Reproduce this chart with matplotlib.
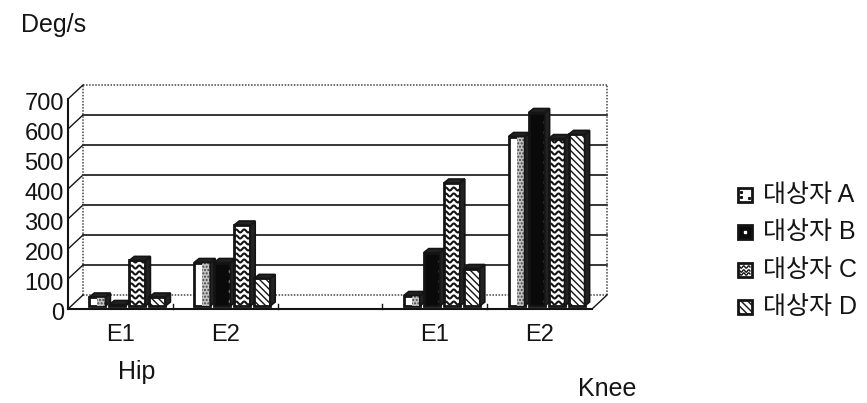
import numpy as np
import matplotlib
matplotlib.use("Agg")
import matplotlib.pyplot as plt
import matplotlib.patches as patches
import matplotlib.transforms as mtrans

plt.rcParams['font.family'] = ['Liberation Sans', 'DejaVu Sans']
plt.rcParams['hatch.linewidth'] = 1.0

# Data
categories = ["E1", "E2", "", "E1", "E2"]
yticks = [0, 100, 200, 300, 400, 500, 600, 700]
series_names = ["대상자 A", "대상자 B", "대상자 C", "대상자 D"]
subject_a = [30, 145, 0, 35, 565]
subject_b = [5, 145, 0, 178, 645]
subject_c = [152, 270, 0, 410, 558]
subject_d = [30, 92, 0, 125, 572]

W, H = 867, 403
ink = "#141414"

fig = plt.figure(figsize=(W/100, H/100), dpi=100, facecolor="white")

# front plane of the fake 3D box, in pixels
left, right, bottom, top = 68, 592, 309, 99
ax = fig.add_axes([left/W, 1-bottom/H, (right-left)/W, (bottom-top)/H])
ax.set_xlim(-0.5, 4.5)
ax.set_ylim(0, 700)
ax.patch.set_alpha(0)
for s in ax.spines.values():
    s.set_visible(False)

px_x = 5/(right-left)
px_y = 700/(bottom-top)
depth_x, depth_y = 15, 14


def fig_line(xs, ys, **kw):
    # line given in pixels from the top left
    fig.add_artist(plt.Line2D(np.asarray(xs)/W, 1-np.asarray(ys)/H, **kw))


# Back wall and floor
dx, dy = depth_x*px_x, depth_y*px_y
for v in yticks[1:-1]:
    ax.plot([-0.5+dx, 4.5+dx], [v+dy, v+dy], color=ink, lw=1.2, clip_on=False, zorder=1)
    ax.plot([-0.5, -0.5+dx], [v, v+dy], color=ink, lw=1.0, clip_on=False, zorder=1)
dot = dict(color="#444444", lw=1.1, ls=(0, (1, 1)), zorder=1)
ax.plot([-0.5+dx, -0.5+dx], [0+dy, 700+dy], clip_on=False, **dot)
ax.plot([4.5+dx, 4.5+dx], [0+dy, 700+dy], clip_on=False, **dot)
ax.plot([-0.5+dx, 4.5+dx], [700+dy, 700+dy], clip_on=False, **dot)
ax.plot([-0.5+dx, 4.5+dx], [0+dy, 0+dy], clip_on=False, **dot)
ax.plot([-0.5, -0.5+dx], [700, 700+dy], color=ink, lw=1.0, clip_on=False, zorder=1)
ax.plot([-0.5, -0.5+dx], [0, dy], color=ink, lw=1.0, clip_on=False, zorder=1)
ax.plot([4.5, 4.5+dx], [0, dy], color=ink, lw=1.0, clip_on=False, zorder=1)
ax.plot([-0.5, -0.5], [0, 700], color=ink, lw=1.5, clip_on=False, zorder=2)
ax.plot([-0.5, 4.5], [0, 0], color=ink, lw=1.5, clip_on=False, zorder=2)

# Bars
bar_off = mtrans.offset_copy(ax.transData, fig=fig, x=7, y=3, units='dots')
step = 20*px_x
bar_w = 16*px_x
side_x, side_y = 5*px_x, 4*px_y
positions = np.arange(len(categories))
series = [subject_a, subject_b, subject_c, subject_d]
styles = [
    dict(facecolor="white", hatch=None),
    dict(facecolor="#0a0a0a", hatch=None),
    dict(facecolor="white", hatch=None),
    dict(facecolor="white", hatch="\\\\\\\\\\"),
]


def draw_texture(kind, rect, x, w, v, z):
    if kind == 0:
        ax.bar(x+w*0.25, v, w*0.5, facecolor="#c4c4c4", hatch=".....", edgecolor="#444444",
               lw=0, transform=bar_off, clip_on=False, zorder=z)
    elif kind == 1:
        yy = np.arange(18, v, 33)
        ax.plot(np.full(len(yy), x+w*0.5), yy, ls="", marker="s", ms=1.4, color="white",
                transform=bar_off, clip_on=False, zorder=z)
    elif kind == 2:
        xs = np.linspace(x-w/2, x+w/2, 40)
        for yy in np.arange(10, v, 20):
            ln, = ax.plot(xs, yy+5*np.sin((xs-x)/w*4*np.pi), color=ink, lw=1.5,
                          transform=bar_off, zorder=z)
            ln.set_clip_path(rect)


for i, values in enumerate(series):
    for j, v in enumerate(values):
        if not categories[j]:
            continue
        x = positions[j] + (i-1.5)*step
        z = 5 + i*2 + j*0.01
        rect = ax.bar(x, v, bar_w, edgecolor=ink, linewidth=2.0, transform=bar_off,
                      clip_on=False, zorder=z, **styles[i])[0]
        draw_texture(i, rect, x, bar_w, v, z+0.5)
        # top and side faces
        x0, x1 = x-bar_w/2, x+bar_w/2
        top_pts = [(x0, v), (x1, v), (x1+side_x, v+side_y), (x0+side_x, v+side_y)]
        side_pts = [(x1, 0), (x1+side_x, side_y), (x1+side_x, v+side_y), (x1, v)]
        for pts in (side_pts, top_pts):
            ax.add_patch(patches.Polygon(pts, closed=True, facecolor="#222222", edgecolor=ink,
                                         lw=1.2, transform=bar_off, clip_on=False, zorder=z+0.6))

# Ticks and labels
ax.set_yticks(yticks)
ax.set_yticklabels([str(v) for v in yticks], fontsize=17, color=ink)
ax.tick_params(axis='y', length=0, pad=3)
tick_shift = mtrans.ScaledTranslation(0, -2/72, fig.dpi_scale_trans)
for lab in ax.get_yticklabels():
    lab.set_transform(lab.get_transform() + tick_shift)
ax.set_xticks(positions)
ax.set_xticklabels(categories, fontsize=17, color=ink)
ax.tick_params(axis='x', length=0, pad=11)
for edge in positions[:-1]:
    ax.plot([edge+0.5, edge+0.5], [0, 16], color=ink, lw=1.0, clip_on=False, zorder=2)

fig.text(21/W, 1-25/H, "Deg/s", fontsize=18, color=ink, va='center', ha='left')
fig.text(137/W, 1-372/H, "Hip", fontsize=18, color=ink, va='center', ha='center')
fig.text(607/W, 1-389/H, "Knee", fontsize=18, color=ink, va='center', ha='center')

# Legend
legend_y = [195, 232, 270, 307]
text_fonts = ['Liberation Sans', 'Noto Sans CJK KR']
for i, name in enumerate(series_names):
    y = legend_y[i]
    fig.add_artist(patches.Rectangle((738/W, 1-(y+7)/H), 14/W, 14/H, transform=fig.transFigure,
                                     facecolor=styles[i]["facecolor"], edgecolor=ink, lw=2.0,
                                     hatch=styles[i]["hatch"]))
    if i == 0:
        fig_line([741, 741, 749], [y-3, y+2, y+3], ls="", marker="s", ms=1.2, color=ink)
    elif i == 1:
        fig_line([745], [y], ls="", marker="s", ms=2, color="white")
    elif i == 2:
        wx = np.linspace(740, 750, 20)
        for off in (-3, 1, 4):
            fig_line(wx, y+off+1.2*np.sin((wx-740)/10*4*np.pi), color=ink, lw=1.0)
    fig.text(763/W, 1-y/H, name, fontsize=18, color=ink, va='center', ha='left', family=text_fonts)

fig.savefig("out.png", dpi=100, facecolor="white")
